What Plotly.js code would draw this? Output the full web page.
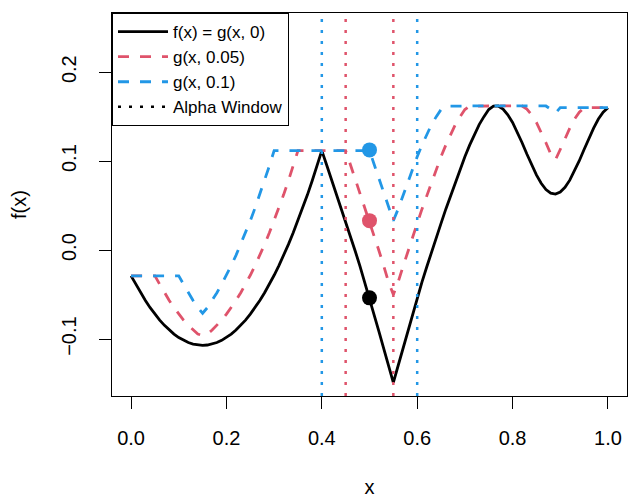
<!DOCTYPE html>
<html>
<head>
<meta charset="utf-8">
<script src="https://cdn.plot.ly/plotly-3.0.1.min.js"></script>
<style>
html, body { margin: 0; padding: 0; background: #ffffff; }
#chart { width: 628px; height: 498px; }
</style>
</head>
<body>
<div id="chart"></div>
<script>
// x grid on which the curves were read
const xGrid = [
  0.00,0.01,0.02,0.03,0.04,0.05,0.06,0.07,0.08,0.09,
  0.10,0.11,0.12,0.13,0.14,0.15,0.16,0.17,0.18,0.19,
  0.20,0.21,0.22,0.23,0.24,0.25,0.26,0.27,0.28,0.29,
  0.30,0.31,0.32,0.33,0.34,0.35,0.36,0.37,0.38,0.39,
  0.40,0.41,0.42,0.43,0.44,0.45,0.46,0.47,0.48,0.49,
  0.50,0.51,0.52,0.53,0.54,0.55,0.56,0.57,0.58,0.59,
  0.60,0.61,0.62,0.63,0.64,0.65,0.66,0.67,0.68,0.69,
  0.70,0.71,0.72,0.73,0.74,0.75,0.76,0.77,0.78,0.79,
  0.80,0.81,0.82,0.83,0.84,0.85,0.86,0.87,0.88,0.89,
  0.90,0.91,0.92,0.93,0.94,0.95,0.96,0.97,0.98,0.99,
  1.00
];

// f(x) = g(x, 0)
const fValues = [
  -0.029,-0.0384,-0.0479,-0.0566,-0.0647,-0.072,-0.0787,-0.0846,-0.0899,-0.0944,
  -0.0983,-0.1014,-0.1039,-0.1056,-0.1067,-0.107,-0.1067,-0.1056,-0.1039,-0.1014,
  -0.0983,-0.0944,-0.0899,-0.0846,-0.0787,-0.072,-0.0647,-0.0566,-0.0479,-0.0384,
  -0.0283,-0.0174,-0.0059,0.0064,0.0194,0.033,0.0474,0.0624,0.0782,0.0946,
  0.1118,0.096,0.08,0.065,0.049,0.033,0.016,-0.001,-0.018,-0.036,
  -0.054,-0.073,-0.092,-0.111,-0.13,-0.149,-0.13,-0.111,-0.091,-0.072,
  -0.053,-0.036,-0.019,-0.002,0.014,0.03,0.046,0.061,0.076,0.091,
  0.105,0.118,0.13,0.141,0.15,0.158,0.1618,0.162,0.1584,0.152,
  0.1435,0.1328,0.1207,0.108,0.0958,0.0845,0.0751,0.0681,0.064,0.063,
  0.0653,0.0706,0.0786,0.0888,0.1005,0.1131,0.1257,0.137,0.1473,0.155,
  0.1601
];

// g(x, 0.05)
const g005Values = [
  -0.029,-0.029,-0.029,-0.029,-0.029,-0.029,-0.0384,-0.0479,-0.0566,-0.0647,
  -0.072,-0.0787,-0.0846,-0.0899,-0.0944,-0.096,-0.0944,-0.0899,-0.0846,-0.0787,
  -0.072,-0.0647,-0.0566,-0.0479,-0.0384,-0.0283,-0.0174,-0.0059,0.0064,0.0194,
  0.033,0.0474,0.0624,0.0782,0.0946,0.1118,0.1118,0.1118,0.1118,0.1118,
  0.1118,0.1118,0.1118,0.1118,0.1118,0.1118,0.096,0.08,0.065,0.049,
  0.033,0.016,-0.001,-0.018,-0.036,-0.05,-0.036,-0.019,-0.002,0.014,
  0.03,0.046,0.061,0.076,0.091,0.105,0.118,0.13,0.141,0.15,
  0.158,0.1618,0.162,0.162,0.162,0.162,0.162,0.162,0.162,0.162,
  0.162,0.162,0.162,0.1584,0.152,0.1435,0.1328,0.1207,0.108,0.1015,
  0.1131,0.1257,0.137,0.1473,0.155,0.1601,0.1601,0.1601,0.1601,0.1601,
  0.1601
];

// g(x, 0.1)
const g010Values = [
  -0.029,-0.029,-0.029,-0.029,-0.029,-0.029,-0.029,-0.029,-0.029,-0.029,
  -0.029,-0.0384,-0.0479,-0.0566,-0.0647,-0.071,-0.0647,-0.0566,-0.0479,-0.0384,
  -0.0283,-0.0174,-0.0059,0.0064,0.0194,0.033,0.0474,0.0624,0.0782,0.0946,
  0.1118,0.1118,0.1118,0.1118,0.1118,0.1118,0.1118,0.1118,0.1118,0.1118,
  0.1118,0.1118,0.1118,0.1118,0.1118,0.1118,0.1118,0.1118,0.1118,0.1118,
  0.1118,0.096,0.08,0.065,0.049,0.033,0.046,0.061,0.076,0.091,
  0.105,0.118,0.13,0.141,0.15,0.158,0.1618,0.162,0.162,0.162,
  0.162,0.162,0.162,0.162,0.162,0.162,0.162,0.162,0.162,0.162,
  0.162,0.162,0.162,0.162,0.162,0.162,0.162,0.162,0.1584,0.154,
  0.1601,0.1601,0.1601,0.1601,0.1601,0.1601,0.1601,0.1601,0.1601,0.1601,
  0.1601
];

const seriesNames = ["f(x) = g(x, 0)", "g(x, 0.05)", "g(x, 0.1)", "Alpha Window"];
const seriesColors = ["#000000", "#DF536B", "#2297E6"];

// evaluation point and the alpha half-widths of the windows
const windowCenter = 0.5;
const alphas = [0.05, 0.1];
const alphaColors = ["#DF536B", "#2297E6"];
const pointValues = [-0.0537, 0.0331, 0.1126]; // f, g(.,0.05), g(.,0.1) at x = 0.5

const xTickVals = [0, 0.2, 0.4, 0.6, 0.8, 1.0];
const xTickText = ["0.0", "0.2", "0.4", "0.6", "0.8", "1.0"];
const yTickVals = [-0.1, 0, 0.1, 0.2];
const yTickText = ["\u22120.1", "0.0", "0.1", "0.2"];

const LW = 2.8;

const traces = [
  { x: xGrid, y: fValues, type: "scatter", mode: "lines", name: seriesNames[0],
    line: { color: seriesColors[0], width: LW } },
  { x: xGrid, y: g005Values, type: "scatter", mode: "lines", name: seriesNames[1],
    line: { color: seriesColors[1], width: LW, dash: "11px,11px" } },
  { x: xGrid, y: g010Values, type: "scatter", mode: "lines", name: seriesNames[2],
    line: { color: seriesColors[2], width: LW, dash: "11px,11px" } },
  { x: [null], y: [null], type: "scatter", mode: "lines", name: seriesNames[3],
    line: { color: "#000000", width: 2.5, dash: "3px,8px" } },
  { x: pointValues.map(() => windowCenter), y: pointValues, type: "scatter", mode: "markers",
    showlegend: false, hoverinfo: "skip",
    marker: { color: seriesColors, size: 15, line: { width: 0 } } }
];

const shapes = [];
alphas.forEach((a, i) => {
  [windowCenter - a, windowCenter + a].forEach(xv => {
    shapes.push({ type: "line", xref: "x", yref: "paper", x0: xv, x1: xv, y0: 0, y1: 1,
      line: { color: alphaColors[i], width: 2.5, dash: "3px,8px" } });
  });
});

const axisCommon = {
  showgrid: false, zeroline: false,
  showline: true, mirror: true, linecolor: "#000000", linewidth: 1,
  ticks: "outside", ticklen: 12, tickwidth: 1, tickcolor: "#000000",
  tickfont: { size: 20, color: "#000000" }
};

const layout = {
  width: 628, height: 498,
  margin: { l: 112, r: 1, t: 13, b: 102 },
  paper_bgcolor: "#ffffff", plot_bgcolor: "#ffffff",
  font: { family: "Liberation Sans, Arial, Helvetica, sans-serif", color: "#000000", size: 20 },
  showlegend: true,
  xaxis: Object.assign({}, axisCommon, {
    range: [-0.04, 1.04], tickmode: "array", tickvals: xTickVals, ticktext: xTickText,
    ticklabelstandoff: 12,
    title: { text: "x", font: { size: 20, color: "#000000" }, standoff: 35 }
  }),
  yaxis: Object.assign({}, axisCommon, {
    range: [-0.164, 0.2665], tickmode: "array", tickvals: yTickVals, ticktext: yTickText,
    tickangle: -90, ticklabelstandoff: 15,
    title: { text: "f(x)", font: { size: 20, color: "#000000" }, standoff: 26 }
  }),
  legend: {
    x: 0, y: 1, xanchor: "left", yanchor: "top",
    bgcolor: "#ffffff", bordercolor: "#000000", borderwidth: 1,
    font: { size: 17, color: "#000000" }, tracegroupgap: 0, itemwidth: 50
  },
  shapes: shapes
};

Plotly.newPlot("chart", traces, layout, { staticPlot: true, displayModeBar: false });
</script>
</body>
</html>
